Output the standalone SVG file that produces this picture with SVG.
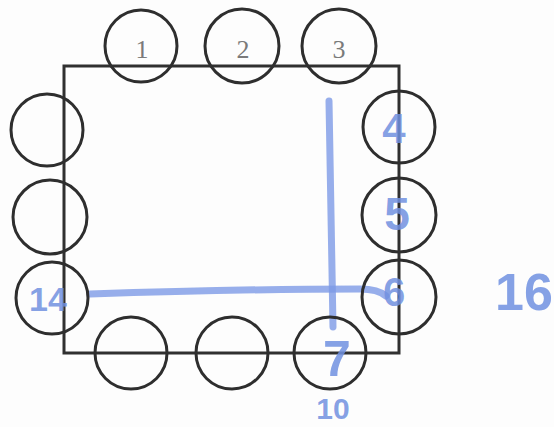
<svg xmlns="http://www.w3.org/2000/svg" width="554" height="427" viewBox="0 0 554 427">
<style>
.bg{fill:#fdfdfd}
.box{fill:none;stroke:#303030;stroke-width:3}
.c{fill:none;stroke:#2e2e2e;stroke-width:3}
.pl{font-family:"Liberation Serif",serif;font-size:26px;fill:#7a7a7a;text-anchor:middle}
.hw{font-family:"Liberation Sans",sans-serif;font-weight:bold;fill:#7090e0;fill-opacity:0.85;text-anchor:middle}
.ln{fill:none;stroke:#7d9ae6;stroke-opacity:0.8;stroke-width:7;stroke-linecap:round}
</style>
<rect class="bg" x="0" y="0" width="554" height="427"/>
<g id="frame"><rect class="box" x="64" y="66" width="335" height="287"/></g>
<g id="connectors">
<path class="ln" d="M329,101 Q331,230 333,327"/>
<path class="ln" d="M90,294 Q240,289 360,289 Q378,289 386,296"/>
</g>
<g id="t1"><circle class="c" cx="141" cy="46" r="36"/><text class="pl" x="142" y="58">1</text></g>
<g id="t2"><circle class="c" cx="242" cy="46" r="37"/><text class="pl" x="243" y="58">2</text></g>
<g id="t3"><circle class="c" cx="339" cy="46" r="37"/><text class="pl" x="339" y="58">3</text></g>
<g id="r4"><circle class="c" cx="399" cy="127" r="36"/><text class="hw" x="394" y="143" font-size="42">4</text></g>
<g id="r5"><circle class="c" cx="399" cy="215" r="37"/><text class="hw" x="397" y="230" font-size="46">5</text></g>
<g id="r6"><circle class="c" cx="399" cy="297" r="37"/><text class="hw" x="394" y="306" font-size="40">6</text></g>
<g id="l1"><circle class="c" cx="47" cy="130" r="36"/></g>
<g id="l2"><circle class="c" cx="50" cy="217" r="37"/></g>
<g id="l3"><circle class="c" cx="52" cy="298" r="36"/><text class="hw" x="48" y="311" font-size="34">14</text></g>
<g id="b1"><circle class="c" cx="131" cy="353" r="36"/></g>
<g id="b2"><circle class="c" cx="232" cy="353" r="36"/></g>
<g id="b3"><circle class="c" cx="330" cy="353" r="36"/><text class="hw" x="337" y="376" font-size="50">7</text></g>
<g id="n10"><text class="hw" x="333" y="419" font-size="30">10</text></g>
<g id="n16"><text class="hw" x="524" y="310" font-size="52">16</text></g>
</svg>
